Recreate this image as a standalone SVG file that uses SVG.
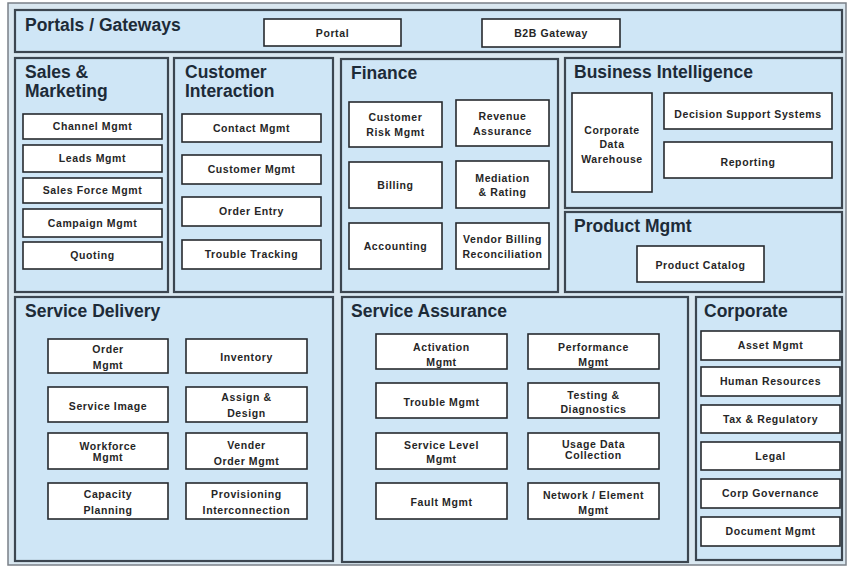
<svg xmlns="http://www.w3.org/2000/svg" width="848" height="568" viewBox="0 0 848 568">
<style>
.frame{fill:#d9e7f0;stroke:#7a8088;stroke-width:1.5}
.panel{fill:#cfe6f6;stroke:#3c4650;stroke-width:2.2}
.box{fill:#ffffff;stroke:#262a2e;stroke-width:1.6}
.title{font-family:"Liberation Sans",Arial,sans-serif;font-weight:bold;font-size:17.5px;fill:#1d2b38}
.lbl{font-family:"Liberation Sans",Arial,sans-serif;font-weight:bold;font-size:10.5px;letter-spacing:0.6px;fill:#262626;text-anchor:middle}
</style>
<rect class="frame" x="8" y="3" width="838" height="562"/>

<g id="portals">
<rect class="panel" x="15" y="10" width="827" height="42"/>
<text class="title" x="25" y="31">Portals / Gateways</text>
<g id="portal"><rect class="box" x="264" y="19" width="137" height="27"/><text class="lbl" x="332.5" y="37">Portal</text></g>
<g id="b2b"><rect class="box" x="482" y="19" width="138" height="28"/><text class="lbl" x="551" y="37">B2B Gateway</text></g>
</g>

<g id="sales">
<rect class="panel" x="15" y="58" width="153" height="234"/>
<text class="title" x="25" y="78">Sales &amp;</text>
<text class="title" x="25" y="97">Marketing</text>
<g id="channel"><rect class="box" x="23" y="114" width="139" height="25"/><text class="lbl" x="92.5" y="130">Channel Mgmt</text></g>
<g id="leads"><rect class="box" x="23" y="145" width="139" height="27"/><text class="lbl" x="92.5" y="162">Leads Mgmt</text></g>
<g id="salesforce"><rect class="box" x="23" y="178" width="139" height="25"/><text class="lbl" x="92.5" y="194">Sales Force Mgmt</text></g>
<g id="campaign"><rect class="box" x="23" y="209" width="139" height="28"/><text class="lbl" x="92.5" y="226.5">Campaign Mgmt</text></g>
<g id="quoting"><rect class="box" x="23" y="242" width="139" height="27"/><text class="lbl" x="92.5" y="259">Quoting</text></g>
</g>

<g id="customer">
<rect class="panel" x="174" y="58" width="159" height="234"/>
<text class="title" x="185" y="78">Customer</text>
<text class="title" x="185" y="97">Interaction</text>
<g id="contact"><rect class="box" x="182" y="114" width="139" height="28"/><text class="lbl" x="251.5" y="131.5">Contact Mgmt</text></g>
<g id="custmgmt"><rect class="box" x="182" y="155" width="139" height="29"/><text class="lbl" x="251.5" y="173">Customer Mgmt</text></g>
<g id="orderentry"><rect class="box" x="182" y="197" width="139" height="29"/><text class="lbl" x="251.5" y="215">Order Entry</text></g>
<g id="troubletrack"><rect class="box" x="182" y="240" width="139" height="29"/><text class="lbl" x="251.5" y="258">Trouble Tracking</text></g>
</g>

<g id="finance">
<rect class="panel" x="341" y="59" width="217" height="233"/>
<text class="title" x="351" y="79">Finance</text>
<g id="custrisk"><rect class="box" x="349" y="102" width="93" height="45"/><text class="lbl" x="395.5" y="120.5">Customer</text><text class="lbl" x="395.5" y="135.5">Risk Mgmt</text></g>
<g id="revenue"><rect class="box" x="456" y="100" width="93" height="46"/><text class="lbl" x="502.5" y="120">Revenue</text><text class="lbl" x="502.5" y="135">Assurance</text></g>
<g id="billing"><rect class="box" x="349" y="162" width="93" height="46"/><text class="lbl" x="395.5" y="188.5">Billing</text></g>
<g id="mediation"><rect class="box" x="456" y="161" width="93" height="47"/><text class="lbl" x="502.5" y="181.5">Mediation</text><text class="lbl" x="502.5" y="195.5">&amp; Rating</text></g>
<g id="accounting"><rect class="box" x="349" y="223" width="93" height="46"/><text class="lbl" x="395.5" y="249.5">Accounting</text></g>
<g id="vendorbilling"><rect class="box" x="456" y="223" width="93" height="46"/><text class="lbl" x="502.5" y="242.5" letter-spacing="0.2">Vendor Billing</text><text class="lbl" x="502.5" y="257.5" letter-spacing="0.2">Reconciliation</text></g>
</g>

<g id="bi">
<rect class="panel" x="565" y="58" width="277" height="150"/>
<text class="title" x="574" y="78">Business Intelligence</text>
<g id="cdw"><rect class="box" x="572" y="93" width="80" height="99"/><text class="lbl" x="612" y="133.5">Corporate</text><text class="lbl" x="612" y="148">Data</text><text class="lbl" x="612" y="162.5">Warehouse</text></g>
<g id="dss"><rect class="box" x="664" y="93" width="168" height="36"/><text class="lbl" x="748" y="117.5">Decision Support Systems</text></g>
<g id="reporting"><rect class="box" x="664" y="142" width="168" height="36"/><text class="lbl" x="748" y="165.5">Reporting</text></g>
</g>

<g id="product">
<rect class="panel" x="565" y="212" width="277" height="80"/>
<text class="title" x="574" y="232">Product Mgmt</text>
<g id="catalog"><rect class="box" x="637" y="246" width="127" height="36"/><text class="lbl" x="700.5" y="268.5">Product Catalog</text></g>
</g>

<g id="delivery">
<rect class="panel" x="15" y="297" width="318" height="264"/>
<text class="title" x="25" y="317">Service Delivery</text>
<g id="ordermgmt"><rect class="box" x="48" y="339" width="120" height="34"/><text class="lbl" x="108" y="352.5">Order</text><text class="lbl" x="108" y="368.5">Mgmt</text></g>
<g id="inventory"><rect class="box" x="186" y="339" width="121" height="34"/><text class="lbl" x="246.5" y="360.5">Inventory</text></g>
<g id="serviceimage"><rect class="box" x="48" y="387" width="120" height="35"/><text class="lbl" x="108" y="409.5">Service Image</text></g>
<g id="assign"><rect class="box" x="186" y="387" width="121" height="35"/><text class="lbl" x="246.5" y="400.5">Assign &amp;</text><text class="lbl" x="246.5" y="416.5">Design</text></g>
<g id="workforce"><rect class="box" x="48" y="433" width="120" height="36"/><text class="lbl" x="108" y="449.5">Workforce</text><text class="lbl" x="108" y="461">Mgmt</text></g>
<g id="vender"><rect class="box" x="186" y="433" width="121" height="36"/><text class="lbl" x="246.5" y="448.5">Vender</text><text class="lbl" x="246.5" y="465">Order Mgmt</text></g>
<g id="capacity"><rect class="box" x="48" y="483" width="120" height="36"/><text class="lbl" x="108" y="497.5">Capacity</text><text class="lbl" x="108" y="513.5">Planning</text></g>
<g id="provisioning"><rect class="box" x="186" y="483" width="121" height="36"/><text class="lbl" x="246.5" y="497.5">Provisioning</text><text class="lbl" x="246.5" y="513.5">Interconnection</text></g>
</g>

<g id="assurance">
<rect class="panel" x="342" y="297" width="346" height="265"/>
<text class="title" x="351" y="317">Service Assurance</text>
<g id="activation"><rect class="box" x="376" y="334" width="131" height="35"/><text class="lbl" x="441.5" y="350.5">Activation</text><text class="lbl" x="441.5" y="365.5">Mgmt</text></g>
<g id="performance"><rect class="box" x="528" y="334" width="131" height="35"/><text class="lbl" x="593.5" y="350.5">Performance</text><text class="lbl" x="593.5" y="365.5">Mgmt</text></g>
<g id="troublemgmt"><rect class="box" x="376" y="383" width="131" height="35"/><text class="lbl" x="441.5" y="405.5">Trouble Mgmt</text></g>
<g id="testing"><rect class="box" x="528" y="383" width="131" height="35"/><text class="lbl" x="593.5" y="398.5">Testing &amp;</text><text class="lbl" x="593.5" y="412.5">Diagnostics</text></g>
<g id="servicelevel"><rect class="box" x="376" y="433" width="131" height="36"/><text class="lbl" x="441.5" y="448.5">Service Level</text><text class="lbl" x="441.5" y="462.5">Mgmt</text></g>
<g id="usage"><rect class="box" x="528" y="433" width="131" height="36"/><text class="lbl" x="593.5" y="447.5">Usage Data</text><text class="lbl" x="593.5" y="458.5">Collection</text></g>
<g id="fault"><rect class="box" x="376" y="483" width="131" height="36"/><text class="lbl" x="441.5" y="505.5">Fault Mgmt</text></g>
<g id="network"><rect class="box" x="528" y="483" width="131" height="36"/><text class="lbl" x="593.5" y="498.5">Network / Element</text><text class="lbl" x="593.5" y="513.5">Mgmt</text></g>
</g>

<g id="corporate">
<rect class="panel" x="696" y="297" width="146" height="263"/>
<text class="title" x="704" y="317">Corporate</text>
<g id="asset"><rect class="box" x="701" y="331" width="139" height="29"/><text class="lbl" x="770.5" y="349">Asset Mgmt</text></g>
<g id="hr"><rect class="box" x="701" y="367" width="139" height="29"/><text class="lbl" x="770.5" y="385">Human Resources</text></g>
<g id="tax"><rect class="box" x="701" y="405" width="139" height="28"/><text class="lbl" x="770.5" y="422.5">Tax &amp; Regulatory</text></g>
<g id="legal"><rect class="box" x="701" y="442" width="139" height="28"/><text class="lbl" x="770.5" y="459.5">Legal</text></g>
<g id="governance"><rect class="box" x="701" y="479" width="139" height="29"/><text class="lbl" x="770.5" y="497">Corp Governance</text></g>
<g id="document"><rect class="box" x="701" y="517" width="139" height="29"/><text class="lbl" x="770.5" y="535">Document Mgmt</text></g>
</g>

<g id="connectors"></g>
</svg>
